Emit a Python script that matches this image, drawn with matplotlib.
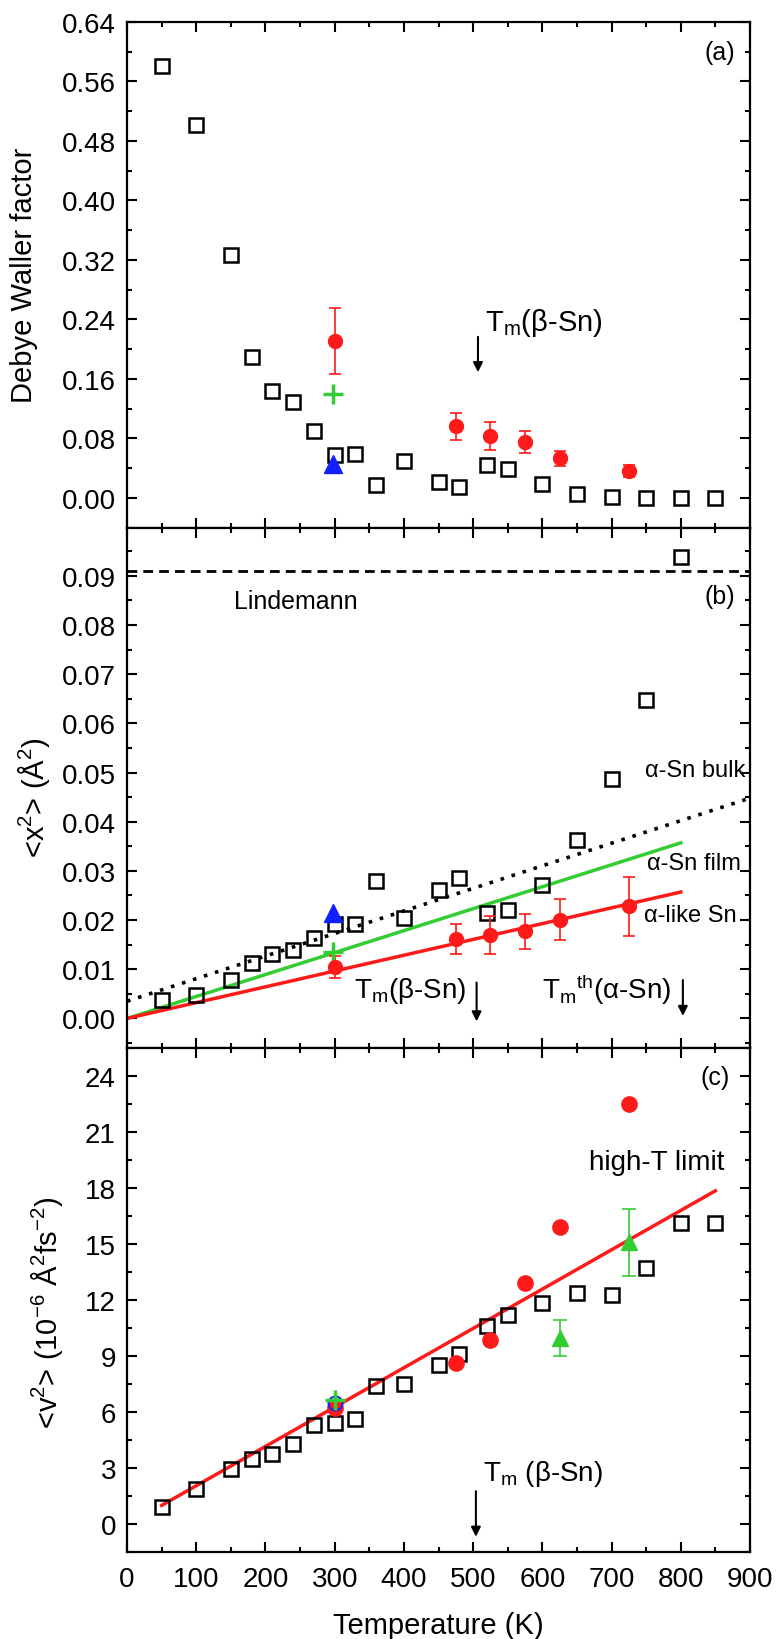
import matplotlib
matplotlib.use('Agg')
import matplotlib.pyplot as plt
from matplotlib.ticker import MultipleLocator, FixedLocator

plt.rcParams['font.family'] = ['Liberation Sans', 'DejaVu Sans']
plt.rcParams['mathtext.fontset'] = 'custom'
plt.rcParams['mathtext.rm'] = 'Liberation Sans'
plt.rcParams['mathtext.it'] = 'Liberation Sans:italic'
plt.rcParams['mathtext.bf'] = 'Liberation Sans:bold'

RED = '#ff1a1a'
GREEN = '#33cc33'
BLUE = '#1020ff'

#---------------Data---------------

# black open squares (same temperatures in all panels)
tempSq = [50, 100, 150, 180, 210, 240, 270, 300, 330, 360, 400, 450, 480,
          520, 550, 600, 650, 700, 750, 800, 850]

# (a) Debye Waller factor
dwSq = [0.581, 0.502, 0.327, 0.190, 0.144, 0.129, 0.0905, 0.058, 0.059, 0.0166,
        0.049, 0.021, 0.015, 0.0435, 0.039, 0.019, 0.005, 0.001, 0.0, 0.0, 0.0]
tempCirc = [300, 475, 525, 575, 625, 725]
dwCirc = [0.211, 0.096, 0.083, 0.075, 0.053, 0.036]
dwCircErr = [0.044, 0.0185, 0.019, 0.0146, 0.0105, 0.0083]
dwPlus = 0.140
dwTri = 0.045

# (b) <x^2>
tempSqB = tempSq[:-1]
x2Sq = [0.0037, 0.0047, 0.0078, 0.0112, 0.0131, 0.0140, 0.0163, 0.0192, 0.0191,
        0.0280, 0.0205, 0.0261, 0.0285, 0.0215, 0.0220, 0.0271, 0.0363, 0.0487,
        0.0647, 0.0939]
x2Circ = [0.0105, 0.0161, 0.0170, 0.0177, 0.0201, 0.0228]
x2CircErr = [0.0022, 0.0030, 0.0038, 0.0035, 0.0041, 0.0060]
x2Plus = 0.0135
x2Tri = 0.0215
lindemann = 0.091
fitT = [0, 800]
fitRed = [0.0, 0.0257]
fitGreen = [0.0, 0.0357]
bulkT = [0, 900]
bulkLine = [0.0035, 0.0448]

# (c) <v^2>
v2Sq = [0.89, 1.9, 2.96, 3.47, 3.74, 4.31, 5.29, 5.39, 5.62, 7.4, 7.5, 8.54, 9.11,
        10.59, 11.2, 11.84, 12.37, 12.26, 13.72, 16.11, 16.11]
v2Circ = [6.24, 8.6, 9.87, 12.9, 15.9, 22.5]
tempTri = [625, 725]
v2Tri = [9.98, 15.1]
v2TriErr = [0.97, 1.8]
v2Plus = 6.65
v2Open = 6.5
limitT = [50, 850]
limitV = [1.0, 17.85]

#---------------Figure---------------

fig = plt.figure(figsize=(7.76, 16.4), dpi=100)
left, width = 0.1637, 0.8028
axA = fig.add_axes([left, 0.6777, width, 0.3083])
axB = fig.add_axes([left, 0.3604, width, 0.3173])
axC = fig.add_axes([left, 0.0530, width, 0.3074])

sqStyle = dict(ls='none', marker='s', mfc='none', mec='k', mew=1.8, ms=10)

# styling common to all panels
def styleAxis(ax, ymin, ylim, ticks):
    ax.set_xlim(0, 900)
    ax.set_ylim(*ylim)
    ax.xaxis.set_major_locator(MultipleLocator(100))
    ax.xaxis.set_minor_locator(MultipleLocator(50))
    ax.yaxis.set_major_locator(FixedLocator(ticks))
    ax.yaxis.set_minor_locator(MultipleLocator(ymin))
    ax.tick_params(which='both', direction='in', top=True, right=True, width=1.5,
                   labelsize=20)
    ax.tick_params(which='major', length=7)
    ax.tick_params(which='minor', length=3.5)
    ax.tick_params(axis='y', pad=8)
    ax.tick_params(axis='x', pad=10)
    for s in ax.spines.values():
        s.set_linewidth(1.6)

def tmArrow(ax, x, y0, y1):
    ax.annotate('', xy=(x, y1), xytext=(x, y0),
                arrowprops=dict(arrowstyle='-|>', color='k', lw=1.5,
                                mutation_scale=14, shrinkA=0, shrinkB=0))

#-------------Panel (a)-------------

axA.plot(tempSq, dwSq, **sqStyle)
axA.errorbar(tempCirc, dwCirc, yerr=dwCircErr, fmt='o', color=RED, ms=10,
             ecolor=RED, elinewidth=1.2, capsize=4, capthick=1.2)
axA.plot([297], [dwPlus], ls='none', marker='+', color=GREEN, ms=14, mew=2.5)
axA.plot([297], [dwTri], ls='none', marker='^', color=BLUE, ms=13)
styleAxis(axA, 0.04, (-0.04, 0.64),
          [0.0, 0.08, 0.16, 0.24, 0.32, 0.40, 0.48, 0.56, 0.64])
axA.yaxis.set_major_formatter(lambda v, p: '%.2f' % v)
axA.tick_params(labelbottom=False)
axA.set_ylabel('Debye Waller factor', fontsize=21, va='center')
axA.yaxis.set_label_coords(-0.166, 0.5)
axA.text(857, 0.600, '(a)', fontsize=18, ha='center', va='center')
axA.text(517, 0.236, r'T$_\mathregular{m}$(β-Sn)', fontsize=21, va='center')
tmArrow(axA, 507, 0.2165, 0.169)

#-------------Panel (b)-------------

axB.plot(bulkT, bulkLine, color='k', ls=(0, (1, 2.2)), lw=2.6)
axB.plot([0, 900], [lindemann, lindemann], color='k', ls=(0, (3.5, 2.2)), lw=2)
axB.plot(fitT, fitGreen, color=GREEN, lw=2.5)
axB.plot(fitT, fitRed, color=RED, lw=2.5)
axB.plot(tempSqB, x2Sq, **sqStyle)
axB.errorbar(tempCirc, x2Circ, yerr=x2CircErr, fmt='o', color=RED, ms=10,
             ecolor=RED, elinewidth=1.2, capsize=4, capthick=1.2)
axB.plot([297], [x2Plus], ls='none', marker='+', color=GREEN, ms=14, mew=2.5)
axB.plot([297], [x2Tri], ls='none', marker='^', color=BLUE, ms=13)
styleAxis(axB, 0.005, (-0.006, 0.0998),
          [0.0, 0.01, 0.02, 0.03, 0.04, 0.05, 0.06, 0.07, 0.08, 0.09])
axB.yaxis.set_major_formatter(lambda v, p: '%.2f' % v)
axB.tick_params(labelbottom=False)
axB.set_ylabel(r'<x$^\mathregular{2}$> (Å$^\mathregular{2}$)', fontsize=21, va='center')
axB.yaxis.set_label_coords(-0.150, 0.483)
axB.text(155, 0.0849, 'Lindemann', fontsize=18, va='center')
axB.text(857, 0.0858, '(b)', fontsize=18, ha='center', va='center')
axB.text(748, 0.0505, 'α-Sn bulk', fontsize=17, va='center')
axB.text(751, 0.0316, 'α-Sn film', fontsize=17, va='center')
axB.text(747, 0.0210, 'α-like Sn', fontsize=17, va='center')
axB.text(328, 0.0057, r'T$_\mathregular{m}$(β-Sn)', fontsize=20, va='center')
axB.text(600, 0.0060, r'T$_\mathregular{m}$$^\mathregular{th}$(α-Sn)', fontsize=20,
         va='center')
tmArrow(axB, 505, 0.0073, -0.0006)
tmArrow(axB, 803, 0.0078, 0.0005)

#-------------Panel (c)-------------

axC.plot(limitT, limitV, color=RED, lw=2.5)
axC.plot(tempSq, v2Sq, **sqStyle)
axC.plot(tempCirc, v2Circ, ls='none', marker='o', color=RED, ms=11)
axC.errorbar(tempTri, v2Tri, yerr=v2TriErr, fmt='^', color=GREEN, ms=12,
             ecolor=GREEN, elinewidth=1.2, capsize=5, capthick=1.2)
axC.plot([300], [v2Open], ls='none', marker='o', mfc='none', mec=BLUE, ms=10, mew=1.5)
axC.plot([300], [v2Plus], ls='none', marker='+', color=GREEN, ms=14, mew=2.5)
styleAxis(axC, 1.5, (-1.5, 25.5), [0, 3, 6, 9, 12, 15, 18, 21, 24])
axC.set_ylabel(r'<v$^\mathregular{2}$> (10$^\mathregular{-6}$ Å$^\mathregular{2}$fs$^\mathregular{-2}$)',
               fontsize=21, va='center')
axC.yaxis.set_label_coords(-0.128, 0.477)
axC.set_xlabel('Temperature (K)', fontsize=21, va='center')
axC.xaxis.set_label_coords(0.5, -0.1446)
axC.text(849, 23.95, '(c)', fontsize=18, ha='center', va='center')
axC.text(668, 19.4, 'high-T limit', fontsize=20, va='center')
axC.text(514, 2.72, r'T$_\mathregular{m}$ (β-Sn)', fontsize=20, va='center')
tmArrow(axC, 504, 1.76, -0.68)

fig.savefig('out.png', dpi=100)
